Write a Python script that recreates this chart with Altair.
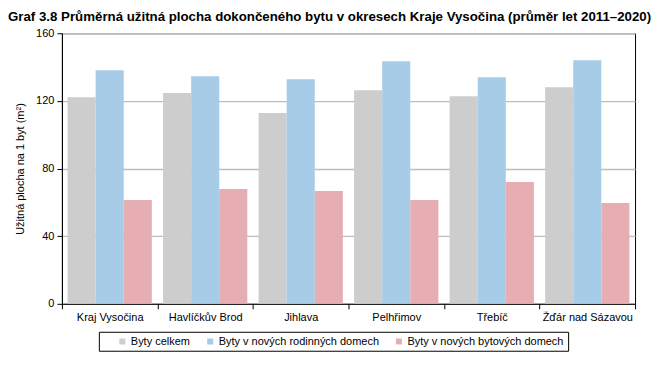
import altair as alt
import pandas as pd

okresy = ["Kraj Vysočina", "Havlíčkův Brod", "Jihlava", "Pelhřimov", "Třebíč", "Žďár nad Sázavou"]
serie = ["Byty celkem", "Byty v nových rodinných domech", "Byty v nových bytových domech"]
byty_celkem = [122.2, 124.6, 112.8, 126.3, 122.8, 128.1]
rodinne_domy = [138.1, 134.6, 132.8, 143.4, 134.0, 144.0]
bytove_domy = [61.4, 67.9, 66.7, 61.4, 72.0, 59.6]
barvy = ["#cdcdcd", "#a6cce8", "#e6aeb2"]

rows = []
for i, o in enumerate(okresy):
    for s, vals in zip(serie, [byty_celkem, rodinne_domy, bytove_domy]):
        rows.append({"okres": o, "serie": s, "hodnota": vals[i]})
df = pd.DataFrame(rows)

font = "Liberation Sans"

chart = alt.Chart(df).mark_bar().encode(
    x=alt.X("okres:N", sort=okresy, title=None,
            scale=alt.Scale(paddingInner=0, paddingOuter=0),
            axis=alt.Axis(labelAngle=0, tickBand="extent", domainColor="black",
                          tickColor="black", tickSize=5, labelPadding=3,
                          labelFont=font, labelFontSize=11, labelColor="black")),
    xOffset=alt.XOffset("serie:N", sort=serie, scale=alt.Scale(paddingInner=0, paddingOuter=0.2)),
    y=alt.Y("hodnota:Q", title="Užitná plocha na 1 byt (m²)",
            scale=alt.Scale(domain=[0, 160], nice=False),
            axis=alt.Axis(values=[0, 40, 80, 120, 160], domainColor="black",
                          tickColor="black", tickSize=5, labelPadding=3,
                          gridColor="#bdbdbd", gridWidth=1.3,
                          labelFont=font, labelFontSize=11, labelColor="black",
                          titleFont=font, titleFontSize=11, titleFontWeight="normal",
                          titleColor="black", titlePadding=10)),
    color=alt.Color("serie:N", sort=serie,
                    scale=alt.Scale(domain=serie, range=barvy),
                    legend=alt.Legend(title=None, orient="none", direction="horizontal",
                                      legendX=37, legendY=299,
                                      symbolType="square", symbolSize=36,
                                      symbolStrokeWidth=0, labelLimit=400,
                                      labelOffset=3,
                                      labelFont=font, labelFontSize=11, labelColor="black",
                                      columnPadding=-3, padding=4,
                                      strokeColor="black", fillColor="white",
                                      symbolOffset=14)),
).properties(
    width=574, height=271,
    title=alt.TitleParams(
        "Graf 3.8 Průměrná užitná plocha dokončeného bytu v okresech Kraje Vysočina (průměr let 2011–2020)",
        anchor="start", frame="group", dx=-54, offset=4,
        font=font, fontSize=13.3, fontWeight="bold", color="black"),
    padding={"left": 54, "top": 25, "right": 22, "bottom": 54},
    autosize=alt.AutoSizeParams(type="none"),
).configure_view(stroke="black", strokeWidth=1)

chart.save("out.html", embed_options={"renderer": "svg", "actions": False})
